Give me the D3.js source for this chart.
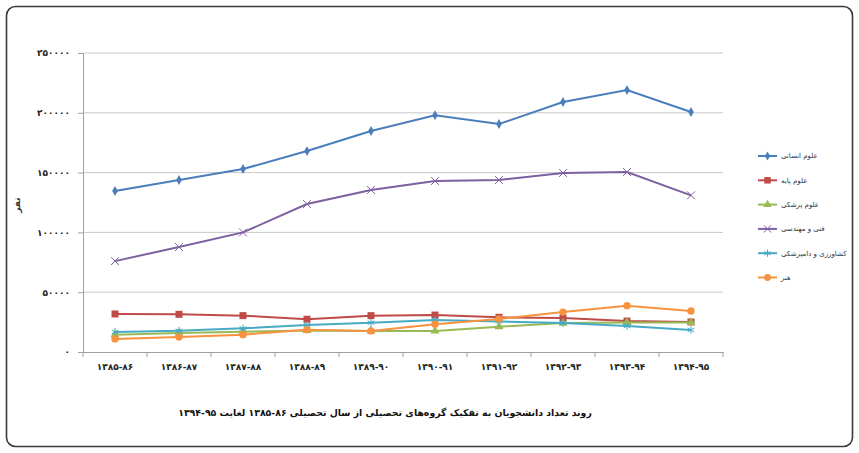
<!DOCTYPE html>
<html lang="fa">
<head>
<meta charset="UTF-8">
<title>روند تعداد دانشجویان</title>
<script src="https://d3js.org/d3.v7.min.js"></script>
<style>
  body { margin: 0; background: #fff; }
  text { font-family: "DejaVu Sans", sans-serif; }
</style>
</head>
<body>
<div id="my_dataviz"></div>
<script>
// categories (academic years)
var years = ["۱۳۸۵-۸۶", "۱۳۸۶-۸۷", "۱۳۸۷-۸۸", "۱۳۸۸-۸۹", "۱۳۸۹-۹۰",
             "۱۳۹۰-۹۱", "۱۳۹۱-۹۲", "۱۳۹۲-۹۳", "۱۳۹۳-۹۴", "۱۳۹۴-۹۵"];

// series names (legend order)
var seriesNames = ["علوم انسانی", "علوم پایه", "علوم پزشکی", "فنی و مهندسی", "کشاورزی و دامپزشکی", "هنر"];

// values
var humanities  = [134600, 143800, 153000, 168000, 184800, 198000, 190600, 209000, 219000, 200700];
var basicSci    = [31800, 31500, 30400, 27400, 30400, 30900, 29000, 28400, 25900, 25100];
var medical     = [14500, 15900, 17000, 18000, 17600, 17600, 21200, 24200, 24700, 24700];
var engineering = [76000, 87800, 100000, 123700, 135500, 143000, 143800, 149700, 150500, 131000];
var agriculture = [16700, 17800, 19800, 22600, 24500, 26800, 25500, 24200, 21700, 18400];
var art         = [10900, 12500, 14500, 18600, 17600, 23200, 27600, 33400, 38700, 34300];

var yTicks = [0, 50000, 100000, 150000, 200000, 250000];
var yTickLabels = ["۰", "۵۰۰۰۰", "۱۰۰۰۰۰", "۱۵۰۰۰۰", "۲۰۰۰۰۰", "۲۵۰۰۰۰"];

var series = [
  {name: seriesNames[0], values: humanities,  color: "#4a7ebb", marker: "diamond"},
  {name: seriesNames[1], values: basicSci,    color: "#be4b48", marker: "square"},
  {name: seriesNames[2], values: medical,     color: "#98b954", marker: "triangle"},
  {name: seriesNames[3], values: engineering, color: "#7d60a0", marker: "x"},
  {name: seriesNames[4], values: agriculture, color: "#46aac5", marker: "star"},
  {name: seriesNames[5], values: art,         color: "#f69240", marker: "circle"}
];

var W = 859, H = 453;
var margin = {top: 53, left: 83, right: 136, bottom: 101};
var width = W - margin.left - margin.right,   // 640
    height = H - margin.top - margin.bottom;  // 299

var root = d3.select("#my_dataviz").append("svg")
  .attr("width", W).attr("height", H);

// outer frame
root.append("rect")
  .attr("x", 6.5).attr("y", 6.5)
  .attr("width", 846).attr("height", 440)
  .attr("rx", 9)
  .attr("fill", "none")
  .attr("stroke", "#3a3a3a")
  .attr("stroke-width", 1.6);

var svg = root.append("g")
  .attr("transform", "translate(" + margin.left + "," + margin.top + ")");

var x = d3.scaleBand().domain(years).range([0, width]);
var y = d3.scaleLinear().domain([0, 250000]).range([height, 0]);

// gridlines
svg.append("g")
  .selectAll("line")
  .data(yTicks.slice(1))
  .enter().append("line")
    .attr("x1", 0).attr("x2", width)
    .attr("y1", function(d){ return y(d); })
    .attr("y2", function(d){ return y(d); })
    .attr("stroke", "#c8c8c8").attr("stroke-width", 1);

// Y axis
var yAxis = svg.append("g")
  .call(d3.axisLeft(y).tickValues(yTicks).tickSize(5).tickPadding(8)
        .tickFormat(function(d, i){ return yTickLabels[i]; }));
yAxis.select(".domain").attr("stroke", "#a0a0a0");
yAxis.selectAll(".tick line").attr("stroke", "#a0a0a0");
yAxis.selectAll("text")
  .attr("fill", "#222").style("font-size", "9px").style("font-weight", "bold")
  .style("font-family", "DejaVu Sans");

// X axis
var xAxis = svg.append("g")
  .attr("transform", "translate(0," + height + ")")
  .call(d3.axisBottom(x).tickSize(0).tickPadding(12));
xAxis.select(".domain").attr("stroke", "#a0a0a0");
xAxis.selectAll("text")
  .attr("fill", "#222").style("font-size", "9px").style("font-weight", "bold")
  .style("font-family", "DejaVu Sans");
// tick marks between categories
xAxis.selectAll(".sep")
  .data(d3.range(years.length + 1))
  .enter().append("line")
    .attr("class", "sep")
    .attr("x1", function(i){ return i * x.step(); })
    .attr("x2", function(i){ return i * x.step(); })
    .attr("y1", 0).attr("y2", 5)
    .attr("stroke", "#a0a0a0");

// y label
root.append("text")
  .attr("transform", "translate(20,205) rotate(-90)")
  .attr("text-anchor", "middle")
  .style("font-size", "9px").style("font-weight", "bold")
  .attr("fill", "#333")
  .text("نفر");

function cx(i){ return x(years[i]) + x.bandwidth() / 2; }

function drawMarker(g, type, color, s) {
  if (type === "diamond") {
    g.append("path").attr("d", d3.symbol().type(d3.symbolDiamond).size(s * 4)())
      .attr("fill", color);
  } else if (type === "square") {
    g.append("path").attr("d", d3.symbol().type(d3.symbolSquare).size(s * 7)())
      .attr("fill", color);
  } else if (type === "triangle") {
    g.append("path").attr("d", d3.symbol().type(d3.symbolTriangle).size(s * 5)())
      .attr("fill", color);
  } else if (type === "x") {
    g.append("path").attr("d", d3.symbol().type(d3.symbolX).size(s * 6)())
      .attr("fill", "none").attr("stroke", color).attr("stroke-width", 1);
  } else if (type === "star") {
    g.append("path").attr("d", d3.symbol().type(d3.symbolAsterisk).size(s * 6)())
      .attr("fill", "none").attr("stroke", color).attr("stroke-width", 1);
  } else {
    g.append("circle").attr("r", Math.sqrt(s * 6 / Math.PI)).attr("fill", color);
  }
}

var line = d3.line()
  .x(function(d, i){ return cx(i); })
  .y(function(d){ return y(d); });

series.forEach(function(s) {
  svg.append("path")
    .datum(s.values)
    .attr("d", line)
    .attr("fill", "none")
    .attr("stroke", s.color)
    .attr("stroke-width", 2);
  svg.append("g").selectAll("g")
    .data(s.values)
    .enter().append("g")
      .attr("transform", function(d, i){ return "translate(" + cx(i) + "," + y(d) + ")"; })
      .each(function(){ drawMarker(d3.select(this), s.marker, s.color, 7); });
});

// legend
var legend = root.append("g");
series.forEach(function(s, i) {
  var ly = 156 + i * 24.3;
  var g = legend.append("g").attr("transform", "translate(758," + ly + ")");
  g.append("line").attr("x1", 0).attr("x2", 19).attr("y1", 0).attr("y2", 0)
    .attr("stroke", s.color).attr("stroke-width", 2);
  var m = g.append("g").attr("transform", "translate(9.5,0)");
  drawMarker(m, s.marker, s.color, 6);
  g.append("text")
    .attr("x", 23).attr("y", 0)
    .attr("dy", "0.35em")
    .style("font-size", "7px")
    .attr("fill", "#333")
    .text(s.name);
});

// caption (numbers isolated so they read left to right like the axis labels)
var LRI = "\u2066", PDI = "\u2069";
var cap = root.append("text")
  .attr("x", 385).attr("y", 416)
  .attr("text-anchor", "middle")
  .attr("direction", "rtl")
  .style("font-size", "12px").style("font-weight", "bold")
  .attr("fill", "#111")
  .text("روند تعداد دانشجویان به تفکیک گروه‌های تحصیلی از سال تحصیلی " +
        LRI + years[0] + PDI + " لغایت " + LRI + years[9] + PDI);
var bw = cap.node().getComputedTextLength();
cap.style("font-size", (12 * 414 / bw) + "px");
</script>
</body>
</html>
